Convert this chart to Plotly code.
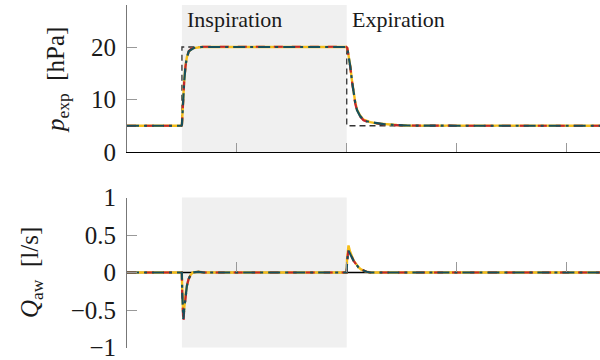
import plotly.graph_objects as go

# ---------------- data ----------------
t_ref = [0.0, 0.5, 0.5, 2.0, 2.0, 4.31]
p_ref = [5, 5, 20, 20, 5, 5]

t_top = [0.0, 0.495, 0.50, 0.51, 0.52, 0.532, 0.545, 0.562, 0.585, 0.607, 0.64, 0.68,
         1.0, 1.5, 1.995, 2.005, 2.02, 2.032, 2.047, 2.062, 2.077, 2.093, 2.12, 2.153,
         2.18, 2.214, 2.27, 2.335, 2.40, 2.456, 2.55, 3.0, 3.5, 4.0, 4.31]
p_teal = [5, 5, 5.2, 9.9, 13.3, 16.3, 18.0, 19.2, 19.6, 19.8, 19.95, 20.0,
          20.0, 20.0, 20.0, 19.8, 18.0, 16.3, 13.6, 11.2, 9.4, 8.0, 6.9, 6.1,
          5.85, 5.7, 5.45, 5.3, 5.2, 5.15, 5.05, 5.0, 5.0, 5.0, 5.0]
p_red = [5, 5, 5.2, 9.8, 13.2, 16.2, 18.0, 19.2, 19.7, 19.9, 20.0, 20.05,
         20.05, 20.05, 20.05, 19.8, 18.0, 16.2, 13.5, 11.1, 9.3, 7.9, 6.8, 6.05,
         5.8, 5.65, 5.4, 5.25, 5.15, 5.1, 5.05, 5.0, 5.0, 5.0, 5.0]
p_yellow = [5, 5, 5.3, 10.0, 13.4, 16.4, 18.1, 19.1, 19.6, 19.8, 19.95, 20.0,
            20.0, 20.0, 20.0, 19.8, 18.1, 16.4, 13.7, 11.3, 9.5, 8.1, 7.0, 6.15,
            5.9, 5.7, 5.45, 5.3, 5.2, 5.15, 5.05, 5.0, 5.0, 5.0, 5.0]

t_bot = [0.0, 0.499, 0.503, 0.508, 0.513, 0.52, 0.527, 0.535, 0.545, 0.56, 0.58, 0.60,
         0.65, 0.70, 1.0, 1.999, 2.003, 2.01, 2.016, 2.03, 2.045, 2.062, 2.085, 2.107,
         2.13, 2.153, 2.18, 2.214, 2.3, 3.0, 4.31]
q_teal = [0, 0, -0.28, -0.55, -0.62, -0.50, -0.38, -0.27, -0.18, -0.09, -0.03, 0.0,
          0.01, 0.0, 0, 0, 0.14, 0.26, 0.29, 0.25, 0.20, 0.156, 0.11, 0.067,
          0.04, 0.022, 0.01, 0.0, 0, 0, 0]
q_red = [0, 0, -0.32, -0.60, -0.67, -0.52, -0.39, -0.28, -0.18, -0.09, -0.03, 0.0,
         0.01, 0.0, 0, 0, 0.15, 0.28, 0.31, 0.26, 0.20, 0.156, 0.11, 0.067,
         0.04, 0.022, 0.01, 0.0, 0, 0, 0]
q_yellow = [0, 0, -0.26, -0.52, -0.60, -0.49, -0.37, -0.27, -0.18, -0.09, -0.03, 0.0,
            0.01, 0.0, 0, 0, 0.18, 0.32, 0.36, 0.28, 0.21, 0.16, 0.115, 0.07,
            0.042, 0.024, 0.01, 0.0, 0, 0, 0]
q_ref = [0, 0]
t_qref = [0.0, 4.31]

phase_labels = ["Inspiration", "Expiration"]
phase_starts = [0.5, 2.0]
insp_end = 2.0

TEAL = "#17505c"
RED = "#c4262e"
YELLOW = "#f6be1a"
SERIF = "Liberation Serif"
TXT = "#1a1a1a"

fig = go.Figure()

# top panel
fig.add_trace(go.Scatter(x=t_ref, y=p_ref, mode="lines", xaxis="x", yaxis="y",
                         line=dict(color="#333333", width=1.3, dash="6px,4px")))
fig.add_trace(go.Scatter(x=t_top, y=p_yellow, mode="lines", xaxis="x", yaxis="y",
                         line=dict(color=YELLOW, width=2.4)))
fig.add_trace(go.Scatter(x=t_top, y=p_red, mode="lines", xaxis="x", yaxis="y",
                         line=dict(color=RED, width=2.2, dash="9px,9px")))
fig.add_trace(go.Scatter(x=t_top, y=p_teal, mode="lines", xaxis="x", yaxis="y",
                         line=dict(color=TEAL, width=2.2, dash="12px,5px,3px,5px")))

# bottom panel
fig.add_trace(go.Scatter(x=t_qref, y=q_ref, mode="lines", xaxis="x2", yaxis="y2",
                         line=dict(color="black", width=1.3)))
fig.add_trace(go.Scatter(x=t_bot, y=q_yellow, mode="lines", xaxis="x2", yaxis="y2",
                         line=dict(color=YELLOW, width=2.4)))
fig.add_trace(go.Scatter(x=t_bot, y=q_red, mode="lines", xaxis="x2", yaxis="y2",
                         line=dict(color=RED, width=2.2, dash="9px,9px")))
fig.add_trace(go.Scatter(x=t_bot, y=q_teal, mode="lines", xaxis="x2", yaxis="y2",
                         line=dict(color=TEAL, width=2.2, dash="12px,5px,3px,5px")))

# shaded inspiration region
for xr_, yr_ in (("x", "y domain"), ("x2", "y2 domain")):
    fig.add_shape(type="rect", xref=xr_, yref=yr_, x0=phase_starts[0], x1=insp_end,
                  y0=0, y1=1, fillcolor="#f0f0f0", line_width=0, layer="below")

for lab, x0 in zip(phase_labels, phase_starts):
    fig.add_annotation(x=x0 + 0.03, y=1 - 19 / 360, xref="x", yref="paper", text=lab,
                       showarrow=False, xanchor="left", yanchor="middle",
                       font=dict(family=SERIF, size=22, color=TXT))

fig.add_annotation(x=(57 - 127) / 473, y=1 - 80 / 360, xref="paper", yref="paper",
                   xanchor="center", yanchor="middle",
                   text="<i>p</i><sub>exp</sub>&nbsp;&nbsp;[hPa]", textangle=-90,
                   showarrow=False, font=dict(family=SERIF, size=25, color=TXT))
fig.add_annotation(x=(31 - 127) / 473, y=1 - 273 / 360, xref="paper", yref="paper",
                   xanchor="center", yanchor="middle",
                   text="<i>Q</i><sub>aw</sub>&nbsp;&nbsp;[l/s]", textangle=-90,
                   showarrow=False, font=dict(family=SERIF, size=25, color=TXT))

xr = [0, 4.305]
common_y = dict(showgrid=False, automargin=False, zeroline=False, showline=True,
                linecolor="#777777", linewidth=1, ticks="inside", ticklen=10,
                tickcolor="#999999", ticklabeloverflow="allow", ticklabelstandoff=5)
fig.update_layout(
    width=600, height=360, margin=dict(l=127, r=0, t=0, b=0, autoexpand=False),
    paper_bgcolor="white", plot_bgcolor="white", showlegend=False,
    font=dict(family=SERIF, size=25, color=TXT),
    xaxis=dict(domain=[0, 1], range=xr, anchor="y", showgrid=False, zeroline=False,
               automargin=False,
               showline=True, linecolor="black", linewidth=1.2,
               ticks="inside", ticklen=9, tickcolor="#999999", tickwidth=1,
               tickvals=[1, 2, 3, 4], showticklabels=False),
    yaxis=dict(domain=[1 - 152 / 360, 1 - 5 / 360], range=[0, 28], anchor="x",
               tickvals=[0, 10, 20], ticktext=["0", "10", "20"], **common_y),
    xaxis2=dict(domain=[0, 1], range=xr, anchor="free", position=1 - 272 / 360,
                showgrid=False, zeroline=False, showline=False, automargin=False,
                ticks="inside", ticklen=10, tickcolor="#999999",
                tickvals=[1, 2, 3, 4], showticklabels=False),
    yaxis2=dict(domain=[1 - 347.5 / 360, 1 - 197.5 / 360], range=[-1, 1], anchor="x2",
                tickvals=[-1, -0.5, 0, 0.5, 1],
                ticktext=["\u22121", "\u22120.5", "0", "0.5", "1"], **common_y),
)

fig.write_html("out.html", config={"displayModeBar": False},
               post_script="document.body.style.margin='0px';")
